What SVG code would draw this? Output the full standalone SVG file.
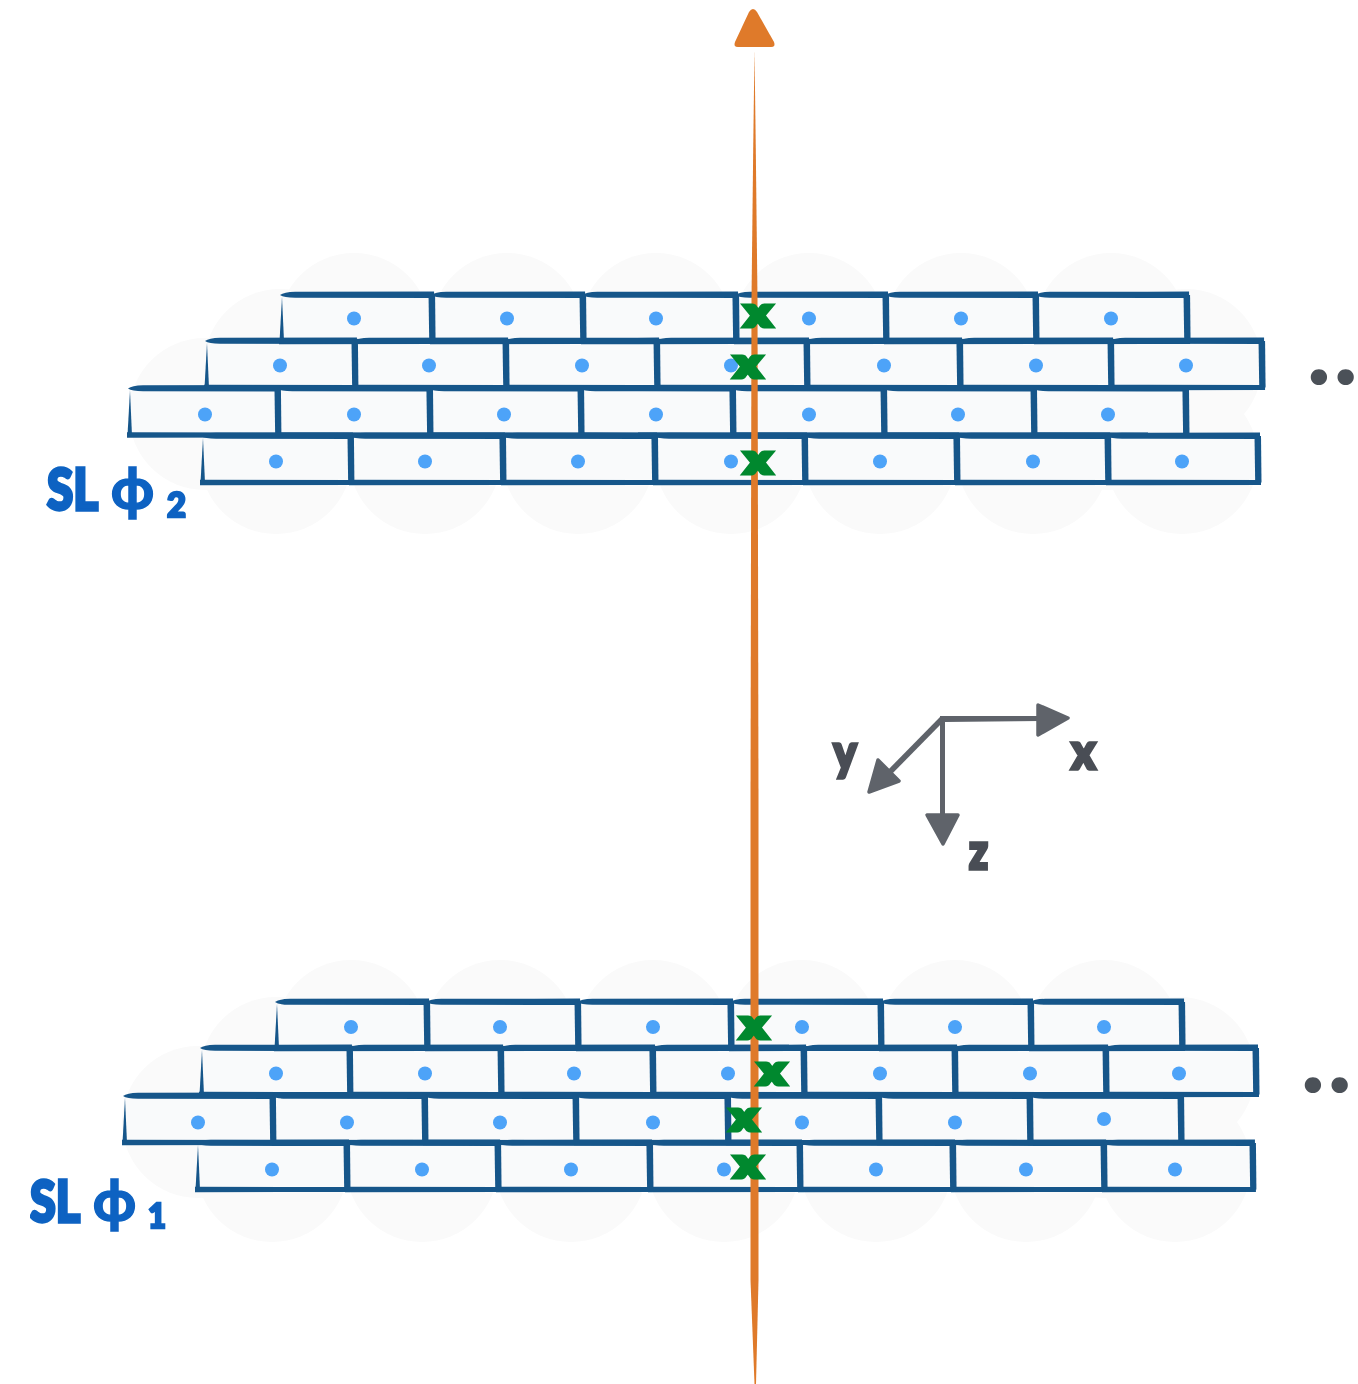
<svg xmlns="http://www.w3.org/2000/svg" width="1358" height="1384" viewBox="0 0 1358 1384">
<style>
.h{fill:#fafafa}
.f{fill:#f9fafb}
.d{fill:#4da3f8}
.g{fill:#00882f;stroke:#00882f;stroke-width:5;font:900 37px Lato,"DejaVu Sans",sans-serif;text-anchor:middle}
.sl{fill:#0a62c2;stroke:#0a62c2;font-family:Lato,"DejaVu Sans",sans-serif;font-weight:900}
.ax{fill:#4a4e55;stroke:#4a4e55;stroke-width:3.500;font:900 50px Lato,"DejaVu Sans",sans-serif;text-anchor:middle}
.gl{fill:#5f646b}
.or{fill:#df7a2a}
.el{fill:#4c5158;font:900 100px Lato,"DejaVu Sans",sans-serif;letter-spacing:3px}
</style>
<defs>
<filter id="soft" x="0" y="0" width="100%" height="100%"><feGaussianBlur stdDeviation="0.5"/></filter>
<g id="b" fill="#17568a">
<path d="M-1,0Q3,-3 14,-3.200L152,-3.400L152,3L14,2.800Q3,2.800 -1,0Z"/>
<path d="M146.500,0L153,0L153.500,46.500L147.200,46.500Z"/>
<path d="M1,2L-1.500,46.500L3,46.500Z"/>
<path d="M-2,43.800L153,44L153,49L-2,49.200Z"/>
</g>
<circle id="c" r="76"/>
</defs>
<rect width="1358" height="1384" fill="#fff"/>
<g filter="url(#soft)">
<g id="layer-sl2">
<g class="h">
<use href="#c" x="354" y="329"/><use href="#c" x="507" y="329"/><use href="#c" x="656" y="329"/><use href="#c" x="809" y="329"/><use href="#c" x="961" y="329"/><use href="#c" x="1111" y="329"/>
<use href="#c" x="280" y="365"/><use href="#c" x="1186" y="365"/>
<use href="#c" x="205" y="414"/><use href="#c" x="1108" y="414"/>
<use href="#c" x="276" y="458"/><use href="#c" x="425" y="458"/><use href="#c" x="578" y="458"/><use href="#c" x="731" y="458"/><use href="#c" x="880" y="458"/><use href="#c" x="1033" y="458"/><use href="#c" x="1182" y="458"/>
</g>
<g class="f">
<rect x="281" y="295" width="906" height="46.500"/><rect x="206" y="341" width="1056" height="47.500"/><rect x="129" y="388.500" width="1057" height="47.500"/><rect x="202" y="436" width="1056" height="46.500"/>
</g>
<g>
<use href="#b" transform="translate(281,295) scale(1.007,1)"/><use href="#b" transform="translate(432,295) scale(1.007,1)"/><use href="#b" transform="translate(583,295) scale(1.02,1)"/><use href="#b" transform="translate(736,295)"/><use href="#b" transform="translate(886,295)"/><use href="#b" transform="translate(1036,295) scale(1.007,1)"/>
<use href="#b" transform="translate(206,341) scale(.993,1)"/><use href="#b" transform="translate(355,341) scale(1.007,1)"/><use href="#b" transform="translate(506,341) scale(1.007,1)"/><use href="#b" transform="translate(657,341)"/><use href="#b" transform="translate(807,341) scale(1.02,1)"/><use href="#b" transform="translate(960,341) scale(1.007,1)"/><use href="#b" transform="translate(1111,341) scale(1.007,1)"/>
<use href="#b" transform="translate(129,388.500) scale(.993,1)"/><use href="#b" transform="translate(278,388.500) scale(1.013,1)"/><use href="#b" transform="translate(430,388.500) scale(1.007,1)"/><use href="#b" transform="translate(581,388.500) scale(1.013,1)"/><use href="#b" transform="translate(733,388.500) scale(1.007,1)"/><use href="#b" transform="translate(884,388.500)"/><use href="#b" transform="translate(1034,388.500) scale(1.013,1)"/>
<use href="#b" transform="translate(202,436) scale(.993,1)"/><use href="#b" transform="translate(351,436) scale(1.013,1)"/><use href="#b" transform="translate(503,436) scale(1.013,1)"/><use href="#b" transform="translate(655,436)"/><use href="#b" transform="translate(805,436) scale(1.013,1)"/><use href="#b" transform="translate(957,436) scale(1.007,1)"/><use href="#b" transform="translate(1108,436)"/>
</g>
<g class="d">
<circle cx="354" cy="318.500" r="7"/><circle cx="507" cy="318.500" r="7"/><circle cx="656" cy="318.500" r="7"/><circle cx="809" cy="318.500" r="7"/><circle cx="961" cy="318.500" r="7"/><circle cx="1111" cy="318.500" r="7"/>
<circle cx="280" cy="365.500" r="7"/><circle cx="429" cy="365.500" r="7"/><circle cx="582" cy="365.500" r="7"/><circle cx="731" cy="365.500" r="7"/><circle cx="884" cy="365.500" r="7"/><circle cx="1036" cy="365.500" r="7"/><circle cx="1186" cy="365.500" r="7"/>
<circle cx="205" cy="414.500" r="7"/><circle cx="354" cy="414.500" r="7"/><circle cx="504" cy="414.500" r="7"/><circle cx="656" cy="414.500" r="7"/><circle cx="809" cy="414.500" r="7"/><circle cx="958" cy="414.500" r="7"/><circle cx="1108" cy="414.500" r="7"/>
<circle cx="276" cy="461.500" r="7"/><circle cx="425" cy="461.500" r="7"/><circle cx="578" cy="461.500" r="7"/><circle cx="731" cy="461.500" r="7"/><circle cx="880" cy="461.500" r="7"/><circle cx="1033" cy="461.500" r="7"/><circle cx="1182" cy="461.500" r="7"/>
</g>
</g>
<g id="layer-sl1">
<g class="h">
<use href="#c" x="351" y="1036"/><use href="#c" x="500" y="1036"/><use href="#c" x="653" y="1036"/><use href="#c" x="802" y="1036"/><use href="#c" x="955" y="1036"/><use href="#c" x="1104" y="1036"/>
<use href="#c" x="276" y="1073"/><use href="#c" x="1179" y="1073"/>
<use href="#c" x="198" y="1122"/><use href="#c" x="1104" y="1122"/>
<use href="#c" x="272" y="1166"/><use href="#c" x="422" y="1166"/><use href="#c" x="571" y="1166"/><use href="#c" x="724" y="1166"/><use href="#c" x="876" y="1166"/><use href="#c" x="1026" y="1166"/><use href="#c" x="1175" y="1166"/>
</g>
<g class="f">
<rect x="276" y="1002" width="906" height="46.500"/><rect x="201" y="1048" width="1055" height="47.500"/><rect x="124" y="1096" width="1057" height="47"/><rect x="197" y="1143" width="1056" height="46.500"/>
</g>
<g>
<use href="#b" transform="translate(276,1002) scale(1.007,1)"/><use href="#b" transform="translate(427,1002) scale(1.007,1)"/><use href="#b" transform="translate(578,1002) scale(1.02,1)"/><use href="#b" transform="translate(731,1002)"/><use href="#b" transform="translate(881,1002)"/><use href="#b" transform="translate(1031,1002) scale(1.007,1)"/>
<use href="#b" transform="translate(201,1048) scale(.993,1)"/><use href="#b" transform="translate(350,1048) scale(1.007,1)"/><use href="#b" transform="translate(501,1048) scale(1.013,1)"/><use href="#b" transform="translate(653,1048) scale(1.007,1)"/><use href="#b" transform="translate(804,1048) scale(1.007,1)"/><use href="#b" transform="translate(955,1048) scale(1.007,1)"/><use href="#b" transform="translate(1106,1048)"/>
<use href="#b" transform="translate(124,1096) scale(.993,1)"/><use href="#b" transform="translate(273,1096) scale(1.013,1)"/><use href="#b" transform="translate(425,1096) scale(1.007,1)"/><use href="#b" transform="translate(576,1096) scale(1.013,1)"/><use href="#b" transform="translate(728,1096) scale(1.007,1)"/><use href="#b" transform="translate(879,1096) scale(1.007,1)"/><use href="#b" transform="translate(1030,1096) scale(1.007,1)"/>
<use href="#b" transform="translate(197,1143)"/><use href="#b" transform="translate(347,1143) scale(1.007,1)"/><use href="#b" transform="translate(498,1143) scale(1.013,1)"/><use href="#b" transform="translate(650,1143)"/><use href="#b" transform="translate(800,1143) scale(1.02,1)"/><use href="#b" transform="translate(953,1143) scale(1.007,1)"/><use href="#b" transform="translate(1104,1143) scale(.993,1)"/>
</g>
<g class="d">
<circle cx="351" cy="1027" r="7"/><circle cx="500" cy="1027" r="7"/><circle cx="653" cy="1027" r="7"/><circle cx="802" cy="1027" r="7"/><circle cx="955" cy="1027" r="7"/><circle cx="1104" cy="1027" r="7"/>
<circle cx="276" cy="1073.500" r="7"/><circle cx="425" cy="1073.500" r="7"/><circle cx="574" cy="1073.500" r="7"/><circle cx="728" cy="1073.500" r="7"/><circle cx="880" cy="1073.500" r="7"/><circle cx="1030" cy="1073.500" r="7"/><circle cx="1179" cy="1073.500" r="7"/>
<circle cx="198" cy="1122.500" r="7"/><circle cx="347" cy="1122.500" r="7"/><circle cx="500" cy="1122.500" r="7"/><circle cx="653" cy="1122.500" r="7"/><circle cx="802" cy="1122.500" r="7"/><circle cx="955" cy="1122.500" r="7"/><circle cx="1104" cy="1119" r="7"/>
<circle cx="272" cy="1169.500" r="7"/><circle cx="422" cy="1169.500" r="7"/><circle cx="571" cy="1169.500" r="7"/><circle cx="724" cy="1169.500" r="7"/><circle cx="876" cy="1169.500" r="7"/><circle cx="1026" cy="1169.500" r="7"/><circle cx="1175" cy="1169.500" r="7"/>
</g>
</g>
<g id="connectors">
<path class="or" d="M754.500,50L755.800,150L757.500,300L758.500,800L758.500,1280L756,1384L754.500,1384L750.500,1280L750.500,800L751.500,300L753.200,150Z"/>
<path class="or" d="M753,9Q755,9 757,12L774,42Q776,47 771,47L738,47Q733,47 735,42L749,12Q751,9 753,9Z"/>
<g id="axis-arrows">
<path class="gl" d="M940,716L1040,716L1040,721L945,722L945,815L940,815Z"/>
<path class="gl" d="M940,717L944,721L887,779L883,775Z"/>
<path class="gl" d="M1038,705L1068,718L1038,735Z" stroke="#5f646b" stroke-width="3.500" stroke-linejoin="round"/>
<path class="gl" d="M878,760L899,781L869,792Z" stroke="#5f646b" stroke-width="3.500" stroke-linejoin="round"/>
<path class="gl" d="M927,815L958,815L943,844Z" stroke="#5f646b" stroke-width="3.500" stroke-linejoin="round"/>
</g>
</g>
<g id="crossings">
<text class="g" x="758" y="326" textLength="25" lengthAdjust="spacingAndGlyphs">x</text><text class="g" x="748" y="377" textLength="25" lengthAdjust="spacingAndGlyphs">x</text><text class="g" x="758" y="473" textLength="25" lengthAdjust="spacingAndGlyphs">x</text>
<text class="g" x="754" y="1038" textLength="25" lengthAdjust="spacingAndGlyphs">x</text><text class="g" x="772" y="1084" textLength="25" lengthAdjust="spacingAndGlyphs">x</text><text class="g" x="744" y="1130" textLength="25" lengthAdjust="spacingAndGlyphs">x</text><text class="g" x="748" y="1177" textLength="25" lengthAdjust="spacingAndGlyphs">x</text>
</g>
<g id="axis-labels">
<text class="ax" x="1083.500" y="768.500" textLength="24" lengthAdjust="spacingAndGlyphs">x</text><text class="ax" x="845" y="770" textLength="23" lengthAdjust="spacingAndGlyphs">y</text><text class="ax" x="978.500" y="868.500" textLength="19" lengthAdjust="spacingAndGlyphs">z</text>
</g>
<g id="label-sl2">
<text class="sl" font-size="57" stroke-width="3.500" x="47" y="510" textLength="51" lengthAdjust="spacingAndGlyphs">SL</text>
<text class="sl" font-size="58" stroke-width="1.500" x="111" y="509" textLength="43" lengthAdjust="spacingAndGlyphs">ϕ</text>
<text class="sl" font-size="34" stroke-width="2.500" x="167" y="517" textLength="19" lengthAdjust="spacingAndGlyphs">2</text>
</g>
<g id="label-sl1">
<text class="sl" font-size="57" stroke-width="3.500" x="30" y="1222" textLength="50" lengthAdjust="spacingAndGlyphs">SL</text>
<text class="sl" font-size="58" stroke-width="1.500" x="93" y="1221" textLength="43" lengthAdjust="spacingAndGlyphs">ϕ</text>
<text class="sl" font-size="34" stroke-width="2.500" x="148" y="1228" textLength="18" lengthAdjust="spacingAndGlyphs">1</text>
</g>
<g id="ellipsis">
<text class="el" x="1307" y="384.300">..</text>
<text class="el" x="1301" y="1092.300">..</text>
</g>
</g>
</svg>
